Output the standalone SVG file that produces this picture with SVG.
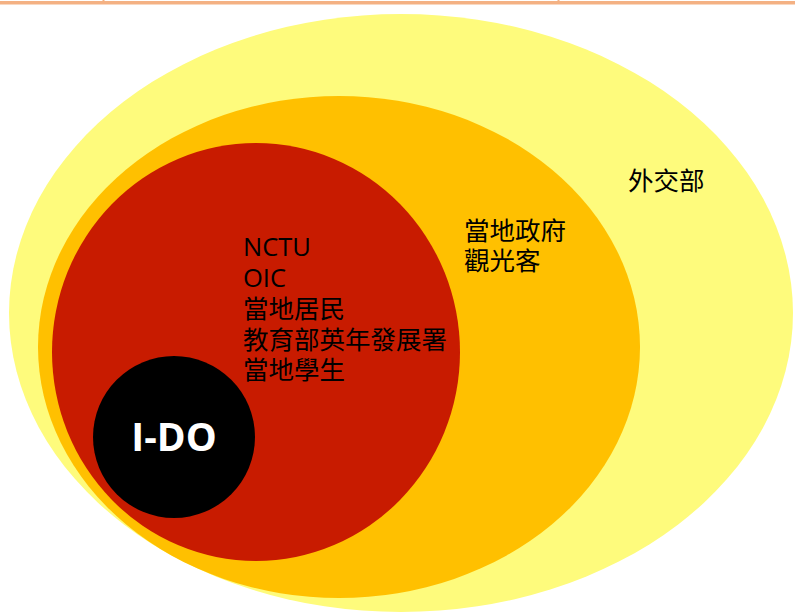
<svg xmlns="http://www.w3.org/2000/svg" width="795" height="614" viewBox="0 0 795 614">
<style>
.t{font-family:"Open Sans","Noto Sans CJK TC",sans-serif;font-size:25.5px;fill:#000}
.w{font-family:"Open Sans","Noto Sans CJK TC",sans-serif;font-size:39px;font-weight:bold;fill:#fff}
</style>
<rect x="0" y="0" width="795" height="614" fill="#fff"/>
<g id="topline" fill="#F4B183">
<rect x="0" y="1" width="795" height="3.5"/>
<rect x="102.5" y="0" width="2" height="4"/>
<rect x="557.5" y="0" width="2" height="4"/>
</g>
<g id="outer"><ellipse cx="401" cy="313" rx="392" ry="299" fill="#FEFB7C"/><text class="t" x="628" y="190">外交部</text></g>
<g id="middle"><ellipse cx="339" cy="347" rx="301" ry="251" fill="#FFC000"/><text class="t" x="464" y="240">當地政府</text><text class="t" x="464" y="270">觀光客</text></g>
<g id="inner"><ellipse cx="256" cy="352" rx="204" ry="209" fill="#C81B00"/>
<text class="t" x="243" y="256">NCTU</text>
<text class="t" x="243" y="287">OIC</text>
<text class="t" x="243" y="318">當地居民</text>
<text class="t" x="243" y="349">教育部英年發展署</text>
<text class="t" x="243" y="379">當地學生</text>
</g>
<g id="ido"><circle cx="174" cy="437" r="81" fill="#000"/><text class="w" x="174" y="451" text-anchor="middle">I-DO</text></g>
<g id="connectors"/>
</svg>
